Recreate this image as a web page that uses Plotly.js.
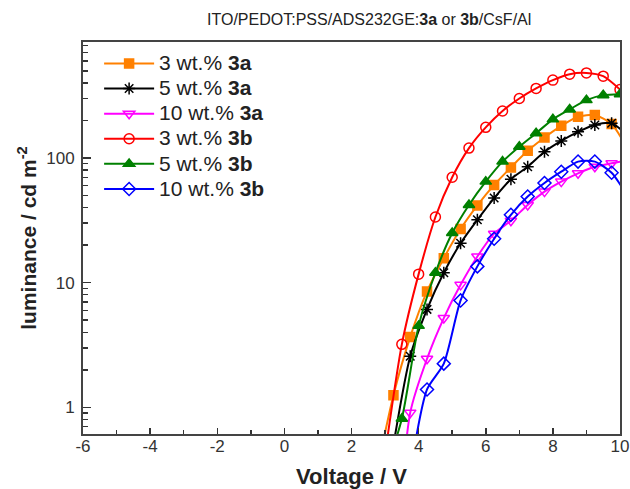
<!DOCTYPE html>
<html><head><meta charset="utf-8">
<script src="https://cdn.plot.ly/plotly-3.0.1.min.js"></script>
<style>html,body{margin:0;padding:0;background:#fff}#chart{width:630px;height:489px}</style>
</head><body><div id="chart"></div>
<script>
// Series names
const names = ['3 wt.% <b>3a</b>','5 wt.% <b>3a</b>','10 wt.% <b>3a</b>','3 wt.% <b>3b</b>','5 wt.% <b>3b</b>','10 wt.% <b>3b</b>'];
// 3 wt.% 3a (orange squares)
const v3a3 = [2.75,3.25,3.75,4.25,4.75,5.25,5.75,6.25,6.75,7.25,7.75,8.25,8.75,9.25,9.75,10.25];
const l3a3 = [0.3,1.25,3.67,8.5,15.7,26.9,41.6,60.8,84,114,146,181,214,221,187,115];
// 5 wt.% 3a (black asterisks)
const v3a5 = [3.25,3.75,4.25,4.75,5.25,5.75,6.25,6.75,7.25,7.75,8.25,8.75,9.25,9.75,10.25];
const l3a5 = [0.5,2.57,6.1,12,20.7,31.9,47.7,67.6,85,112,137,162,184,190,150];
// 10 wt.% 3a (magenta down triangles)
const v3a10 = [3.25,3.75,4.25,4.75,5.25,5.75,6.25,6.75,7.25,7.75,8.25,8.75,9.25,9.75,10.25];
const l3a10 = [0.03,0.906,2.45,5.2,9.6,16.2,24.7,31.4,42,53.7,64.6,75.3,85,90.6,96];
// 3 wt.% 3b (red circles)
const v3b3 = [3.0,3.5,4.0,4.5,5.0,5.5,6.0,6.5,7.0,7.5,8.0,8.5,9.0,9.5,10.0];
const l3b3 = [0.42,3.2,11.7,33.6,70,120,176,238,300,361,421,470,481,453,354];
// 5 wt.% 3b (green up triangles)
const v3b5 = [3.0,3.5,4.0,4.5,5.0,5.5,6.0,6.5,7.0,7.5,8.0,8.5,9.0,9.5,10.0];
const l3b5 = [0.3,0.81,4.5,12,25,42,64.6,93.5,123,158,204,245,291,319,325];
// 10 wt.% 3b (blue diamonds)
const v3b10 = [3.75,4.25,4.75,5.25,5.75,6.25,6.75,7.25,7.75,8.25,8.75,9.25,9.75,10.25];
const l3b10 = [0.3,1.39,2.24,7.2,13.5,22.5,35,49,63,77.6,93.5,93.5,76,48];
// Axis ticks
const xTicks = [-6,-4,-2,0,2,4,6,8,10];
const xTickText = ['-6','-4','-2','0','2','4','6','8','10'];
const yTicks = [1,10,100];
const yTickText = ['1','10','100'];

const xs = [v3a3,v3a5,v3a10,v3b3,v3b5,v3b10];
const ys = [l3a3,l3a5,l3a10,l3b3,l3b5,l3b10];
const colors = ['#FF8000','#000000','#FF00FF','#FF0000','#008000','#0000FF'];
const symbols = ['square','asterisk-open','triangle-down-open','circle-open','triangle-up','diamond-open'];
const sizes = [9,10,10,10,10,10];

const traces = xs.map((x,i)=>({
  type:'scatter', mode:'lines+markers', x:x, y:ys[i],
  name:'<span style="font-size:21px">'+names[i]+'</span>',
  legendgroup:'g'+i,
  line:{color:colors[i], width:2, shape:'spline', smoothing:0.7},
  marker:{symbol:symbols[i], size:sizes[i], color:colors[i],
          line:{color:colors[i], width:1.5}},
  cliponaxis:true
}));

const font = 'Liberation Sans, Arial, sans-serif';
const layout = {
  width:630, height:489,
  margin:{l:83, r:10, t:42, b:54.5},
  paper_bgcolor:'#fff', plot_bgcolor:'#fff',
  font:{family:font, color:'#222'},
  title:{text:'ITO/PEDOT:PSS/ADS232GE:<b>3a</b> or <b>3b</b>/CsF/Al', x:0.586, xanchor:'center', y:0.96, yanchor:'middle', font:{size:16, color:'#222'}},
  showlegend:true,
  legend:{x:0.03, y:0.99, xanchor:'left', yanchor:'top', bgcolor:'rgba(0,0,0,0)', font:{size:17, color:'#222'}, itemwidth:50, tracegroupgap:0},
  xaxis:{range:[-6,10], tickvals:xTicks, ticktext:xTickText, ticks:'inside', ticklen:6, tickwidth:1.5, tickcolor:'#333',
    minor:{dtick:1, ticks:'inside', ticklen:4, tickwidth:1.5, tickcolor:'#333'},
    showline:true, linecolor:'#444', linewidth:2, mirror:true, showgrid:false, zeroline:false,
    tickfont:{size:17, color:'#333'}, ticklabelstandoff:-4,
    title:{text:'<b>Voltage / V</b>', font:{size:22, color:'#222'}, standoff:13}},
  yaxis:{type:'log', range:[-0.214, 2.93], tickvals:yTicks, ticktext:yTickText, ticks:'inside', ticklen:8, tickwidth:1.5, tickcolor:'#333',
    minor:{dtick:'D1', ticks:'inside', ticklen:5, tickwidth:1.5, tickcolor:'#333'},
    showline:true, linecolor:'#444', linewidth:2, mirror:true, showgrid:false, zeroline:false,
    tickfont:{size:17, color:'#333'}, ticklabelstandoff:3,
    title:{text:'<b>luminance / cd m<sup>-2</sup></b>', font:{size:21, color:'#222'}, standoff:4}}
};
Plotly.newPlot('chart', traces, layout, {displayModeBar:false, staticPlot:true});
</script></body></html>
